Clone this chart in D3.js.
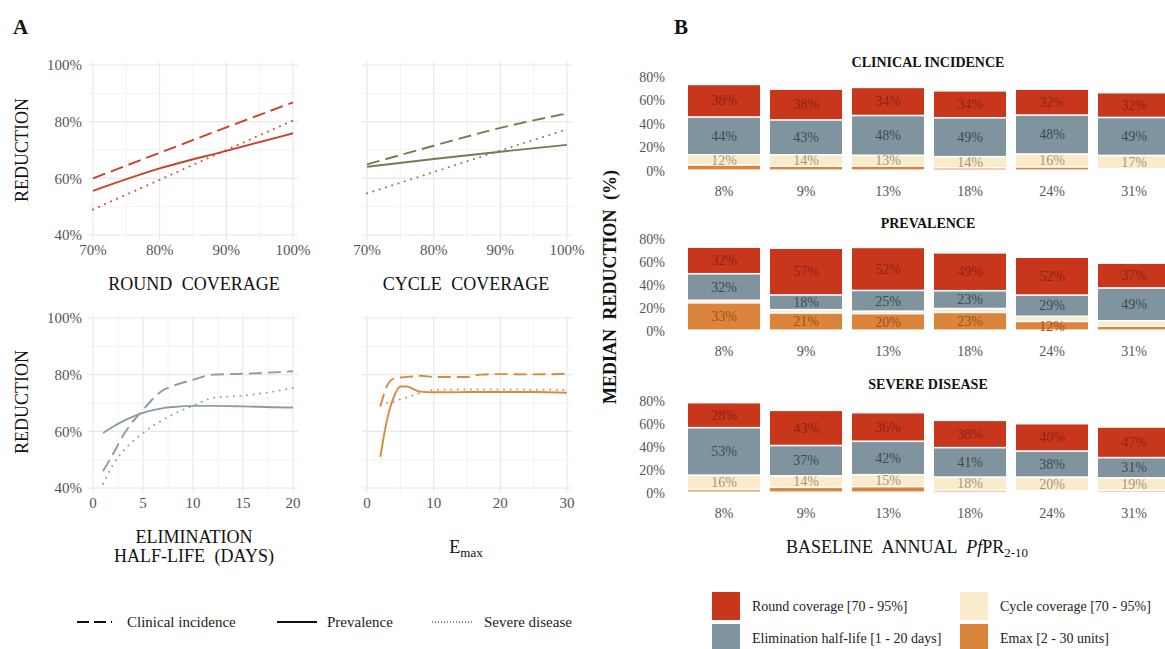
<!DOCTYPE html>
<html><head><meta charset="utf-8">
<script src="https://cdn.jsdelivr.net/npm/d3@7"></script>
<style>
body{margin:0;background:#fff}
svg{display:block}
text{font-family:"Liberation Serif","DejaVu Serif",serif}
</style>
</head><body>
<svg id="chart" width="1165" height="649"></svg>
<script>
// ---------------- DATA: Panel A ----------------
const roundX = [70, 80, 90, 100];
const roundClinical = [60, 69, 78, 86.8];
const roundPrevalence = [55.6, 63.5, 69.7, 75.9];
const roundSevere = [49, 59.5, 70, 80.4];

const cycleX = [70, 80, 90, 100];
const cycleClinical = [64.9, 71.5, 77.8, 82.9];
const cyclePrevalence = [64.1, 66.8, 69.4, 71.8];
const cycleSevere = [54.7, 62.2, 69.8, 77.3];

const halfLifeX = [1, 2, 3, 4, 5, 6, 7, 8, 10, 12, 15, 18, 20];
const halfLifeClinical = [45.9, 52, 58.5, 63.5, 67.5, 71.5, 74.5, 76, 78.2, 80, 80.3, 80.8, 81.2];
const halfLifePrevalence = [59.4, 61.6, 63.6, 65.2, 66.5, 67.5, 68.2, 68.6, 69, 69, 68.8, 68.5, 68.4];
const halfLifeSevere = [41.5, 48.2, 53, 56.5, 59.4, 62, 64, 66, 69, 71.8, 72.6, 74, 75.3];

const emaxX = [2, 3, 4, 5, 6, 7, 8, 10, 13, 15, 17, 20, 25, 30];
const emaxClinical = [68.8, 76, 78.6, 79, 79.2, 79.4, 79.6, 79.2, 79.2, 79.2, 80, 80.2, 80.1, 80.3];
const emaxPrevalence = [51, 64, 72, 75.8, 75.8, 74.8, 74, 73.8, 73.8, 73.9, 73.9, 73.9, 73.9, 73.6];
const emaxSevere = [null, 70, 70.5, 71.3, 72, 72.8, 73.5, 74.6, 74.8, 74.8, 74.8, 74.8, 74.7, 74.6];

const yTicksA = [40, 60, 80, 100];
const yMinorA = [50, 70, 90];
const seriesNames = ["Clinical incidence", "Prevalence", "Severe disease"];

// ---------------- DATA: Panel B ----------------
const baselineCats = ["8%", "9%", "13%", "18%", "24%", "31%"];
const componentKeys = ["emax", "cycle", "elim", "round"]; // bottom -> top
const componentLabels = {
  round: "Round coverage [70 - 95%]",
  cycle: "Cycle coverage [70 - 95%]",
  elim: "Elimination half-life [1 - 20 days]",
  emax: "Emax [2 - 30 units]"
};
// total median reduction (%) per baseline
const clinicalTotal = [73, 69, 70.5, 67.6, 69, 66];
const prevalenceTotal = [72.2, 71.3, 72, 67.3, 63.5, 58.3];
const severeTotal = [77.9, 71.2, 69.2, 62.5, 59.6, 56.7];
// share of each component (%)
const clinicalRound = [38, 38, 34, 34, 32, 32];
const clinicalElim = [44, 43, 48, 49, 48, 49];
const clinicalCycle = [12, 14, 13, 14, 16, 17];
const clinicalEmax = [6, 5, 5, 3, 4, 2];
const prevalenceRound = [32, 57, 52, 49, 52, 37];
const prevalenceElim = [32, 18, 25, 23, 29, 49];
const prevalenceCycle = [3, 4, 3, 5, 7, 8];
const prevalenceEmax = [33, 21, 20, 23, 12, 6];
const severeRound = [28, 43, 36, 38, 40, 47];
const severeElim = [53, 37, 42, 41, 38, 31];
const severeCycle = [16, 14, 15, 18, 20, 19];
const severeEmax = [3, 6, 7, 3, 2, 3];
const yTicksB = [0, 20, 40, 60, 80];

// ---------------- STYLES ----------------
const fillB = {round: "#C8361C", elim: "#7F949E", cycle: "#FAEBCB", emax: "#DB843C"};
const textB = {round: "#8E2414", elim: "#3C4C55", cycle: "#A6977A", emax: "#9E5018"};
const tickColor = "#555";
const gridColor = "#e8e8e8";

const svg = d3.select("#chart");

// ---------------- PANEL A ----------------
svg.append("text").attr("x", 13).attr("y", 34).attr("font-size", 21).attr("font-weight", "bold").attr("fill", "#111").text("A");

const linePanels = [
  {xs: roundX, ys: [roundClinical, roundPrevalence, roundSevere], xDomain: [70, 100], xRange: [93, 293], yRange: [235, 65],
   xTicks: [70, 80, 90, 100], xMinor: [75, 85, 95], fmt: d => d + "%", color: "#C4432C", showY: true},
  {xs: cycleX, ys: [cycleClinical, cyclePrevalence, cycleSevere], xDomain: [70, 100], xRange: [367, 567], yRange: [235, 65],
   xTicks: [70, 80, 90, 100], xMinor: [75, 85, 95], fmt: d => d + "%", color: "#7D7752", showY: false},
  {xs: halfLifeX, ys: [halfLifeClinical, halfLifePrevalence, halfLifeSevere], xDomain: [0, 20], xRange: [93, 293], yRange: [488, 318],
   xTicks: [0, 5, 10, 15, 20], xMinor: [2.5, 7.5, 12.5, 17.5], fmt: d => d, color: "#8A9DA7", showY: true},
  {xs: emaxX, ys: [emaxClinical, emaxPrevalence, emaxSevere], xDomain: [0, 30], xRange: [367, 567], yRange: [488, 318],
   xTicks: [0, 10, 20, 30], xMinor: [5, 15, 25], fmt: d => d, color: "#D98A3D", showY: false}
];

linePanels.forEach(p => {
  const x = d3.scaleLinear().domain(p.xDomain).range(p.xRange);
  const y = d3.scaleLinear().domain([40, 100]).range(p.yRange);
  const g = svg.append("g");
  const x0 = p.xRange[0] - 5, x1 = p.xRange[1] + 5;
  const yb = p.yRange[0] + 5, yt = p.yRange[1] - 3;
  // grid
  yMinorA.forEach(v => g.append("line").attr("x1", x0).attr("x2", x1).attr("y1", y(v)).attr("y2", y(v)).attr("stroke", "#f0f0f0").attr("stroke-width", 0.9));
  p.xMinor.forEach(v => g.append("line").attr("x1", x(v)).attr("x2", x(v)).attr("y1", yt).attr("y2", yb).attr("stroke", "#f0f0f0").attr("stroke-width", 0.9));
  yTicksA.forEach(v => g.append("line").attr("x1", x0).attr("x2", x1).attr("y1", y(v)).attr("y2", y(v)).attr("stroke", gridColor).attr("stroke-width", 1.1));
  p.xTicks.forEach(v => g.append("line").attr("x1", x(v)).attr("x2", x(v)).attr("y1", yt).attr("y2", yb).attr("stroke", gridColor).attr("stroke-width", 1.1));
  // tick labels
  if (p.showY) {
    yTicksA.forEach(v => g.append("text").attr("x", p.xRange[0] - 11).attr("y", y(v)).attr("dy", "0.35em")
      .attr("text-anchor", "end").attr("font-size", 15).attr("fill", tickColor).text(v + "%"));
  }
  p.xTicks.forEach(v => g.append("text").attr("x", x(v)).attr("y", p.yRange[0] + 15).attr("dy", "0.35em")
    .attr("text-anchor", "middle").attr("font-size", 15).attr("fill", tickColor).text(p.fmt(v)));
  // lines
  p.ys.forEach((vals, i) => {
    const pts = p.xs.map((xv, k) => [xv, vals[k]]);
    const line = d3.line().defined(d => d[1] != null).x(d => x(d[0])).y(d => y(d[1])).curve(d3.curveMonotoneX);
    const path = g.append("path").attr("d", line(pts)).attr("fill", "none").attr("stroke", p.color);
    if (i === 0) path.attr("stroke-width", 1.9).attr("stroke-dasharray", "13,6");
    else if (i === 1) path.attr("stroke-width", 1.9);
    else path.attr("stroke-width", 2).attr("stroke-linecap", "round").attr("stroke-dasharray", "0.1,6.5").attr("stroke-opacity", 0.9);
  });
});

// axis titles panel A
const atStyle = sel => sel.attr("font-size", 18).attr("fill", "#111").attr("text-anchor", "middle").style("word-spacing", "5px");
atStyle(svg.append("text").attr("x", 194).attr("y", 290)).text("ROUND COVERAGE");
atStyle(svg.append("text").attr("x", 466).attr("y", 290)).text("CYCLE COVERAGE");
atStyle(svg.append("text").attr("x", 194).attr("y", 543)).text("ELIMINATION");
atStyle(svg.append("text").attr("x", 194).attr("y", 562)).text("HALF-LIFE (DAYS)");
const emaxT = atStyle(svg.append("text").attr("x", 466).attr("y", 553));
emaxT.append("tspan").text("E");
emaxT.append("tspan").attr("font-size", 13).attr("dy", 4).text("max");
atStyle(svg.append("text").attr("transform", "translate(28,150) rotate(-90)")).text("REDUCTION");
atStyle(svg.append("text").attr("transform", "translate(28,402) rotate(-90)")).text("REDUCTION");

// legend panel A
const legA = [
  {name: "Clinical incidence", x1: 77, x2: 112, tx: 127, dash: "12,5", w: 2},
  {name: "Prevalence", x1: 277, x2: 317, tx: 327, dash: null, w: 2},
  {name: "Severe disease", x1: 432, x2: 472, tx: 484, dash: "1,2", w: 1}
];
legA.forEach(l => {
  const ln = svg.append("line").attr("x1", l.x1).attr("x2", l.x2).attr("y1", 622).attr("y2", 622).attr("stroke", "#111").attr("stroke-width", l.w);
  if (l.dash) ln.attr("stroke-dasharray", l.dash);
  svg.append("text").attr("x", l.tx).attr("y", 622).attr("dy", "0.35em").attr("font-size", 15).attr("fill", "#222").text(l.name);
});

// ---------------- PANEL B ----------------
svg.append("text").attr("x", 674).attr("y", 34).attr("font-size", 21).attr("font-weight", "bold").attr("fill", "#111").text("B");
svg.append("text").attr("transform", "translate(616,287) rotate(-90)").attr("text-anchor", "middle")
  .attr("font-size", 18).attr("font-weight", "bold").attr("fill", "#111").style("word-spacing", "5px").text("MEDIAN REDUCTION (%)");

const xB = d3.scaleBand().domain(baselineCats).range([683, 1175]).paddingInner(0.122).paddingOuter(0.061);

const rows = [
  {title: "CLINICAL INCIDENCE", titleY: 62, y0: 171, y80: 77, total: clinicalTotal,
   shares: {round: clinicalRound, elim: clinicalElim, cycle: clinicalCycle, emax: clinicalEmax}},
  {title: "PREVALENCE", titleY: 223, y0: 331, y80: 239, total: prevalenceTotal,
   shares: {round: prevalenceRound, elim: prevalenceElim, cycle: prevalenceCycle, emax: prevalenceEmax}},
  {title: "SEVERE DISEASE", titleY: 384, y0: 493, y80: 401, total: severeTotal,
   shares: {round: severeRound, elim: severeElim, cycle: severeCycle, emax: severeEmax}}
];

rows.forEach(r => {
  const y = d3.scaleLinear().domain([0, 80]).range([r.y0, r.y80]);
  const g = svg.append("g");
  g.append("text").attr("x", 928).attr("y", r.titleY).attr("dy", "0.35em").attr("text-anchor", "middle")
    .attr("font-size", 14).attr("font-weight", "bold").attr("fill", "#111").text(r.title);
  yTicksB.forEach(v => g.append("text").attr("x", 665).attr("y", y(v)).attr("dy", "0.35em").attr("text-anchor", "end")
    .attr("font-size", 14).attr("fill", tickColor).text(v + "%"));
  baselineCats.forEach(c => g.append("text").attr("x", xB(c) + xB.bandwidth() / 2).attr("y", r.y0 + 20).attr("dy", "0.35em")
    .attr("text-anchor", "middle").attr("font-size", 14).attr("fill", tickColor).text(c));
  const table = baselineCats.map((c, i) => {
    const o = {cat: c};
    componentKeys.forEach(k => { o[k] = r.total[i] * r.shares[k][i] / 100; o[k + "Share"] = r.shares[k][i]; });
    return o;
  });
  const stacked = d3.stack().keys(componentKeys)(table);
  stacked.forEach(layer => {
    const k = layer.key;
    layer.forEach(d => {
      const top = y(d[1]), bot = y(d[0]);
      g.append("rect").attr("x", xB(d.data.cat)).attr("width", xB.bandwidth())
        .attr("y", top).attr("height", Math.max(0, bot - top - 1.6)).attr("fill", fillB[k]);
      const share = d.data[k + "Share"];
      if (share >= 10) {
        g.append("text").attr("x", xB(d.data.cat) + xB.bandwidth() / 2).attr("y", (top + bot) / 2 - 1).attr("dy", "0.35em")
          .attr("text-anchor", "middle").attr("font-size", 14).attr("fill", textB[k]).text(share + "%");
      }
    });
  });
});

// x title panel B
const bt = svg.append("text").attr("x", 907).attr("y", 553).attr("text-anchor", "middle").attr("font-size", 18).attr("fill", "#111").style("word-spacing", "5px");
bt.append("tspan").text("BASELINE ANNUAL ");
bt.append("tspan").attr("font-style", "italic").text("Pf");
bt.append("tspan").text("PR");
bt.append("tspan").attr("font-size", 13).attr("dy", 4).text("2-10");

// legend panel B
const legB = [
  {k: "round", x: 712, y: 592}, {k: "elim", x: 712, y: 624},
  {k: "cycle", x: 960, y: 592}, {k: "emax", x: 960, y: 624}
];
legB.forEach(l => {
  svg.append("rect").attr("x", l.x).attr("y", l.y).attr("width", 28).attr("height", 28).attr("fill", fillB[l.k]);
  svg.append("text").attr("x", l.x + 40).attr("y", l.y + 14).attr("dy", "0.35em").attr("font-size", 14).attr("fill", "#222").text(componentLabels[l.k]);
});
</script>
</body></html>
